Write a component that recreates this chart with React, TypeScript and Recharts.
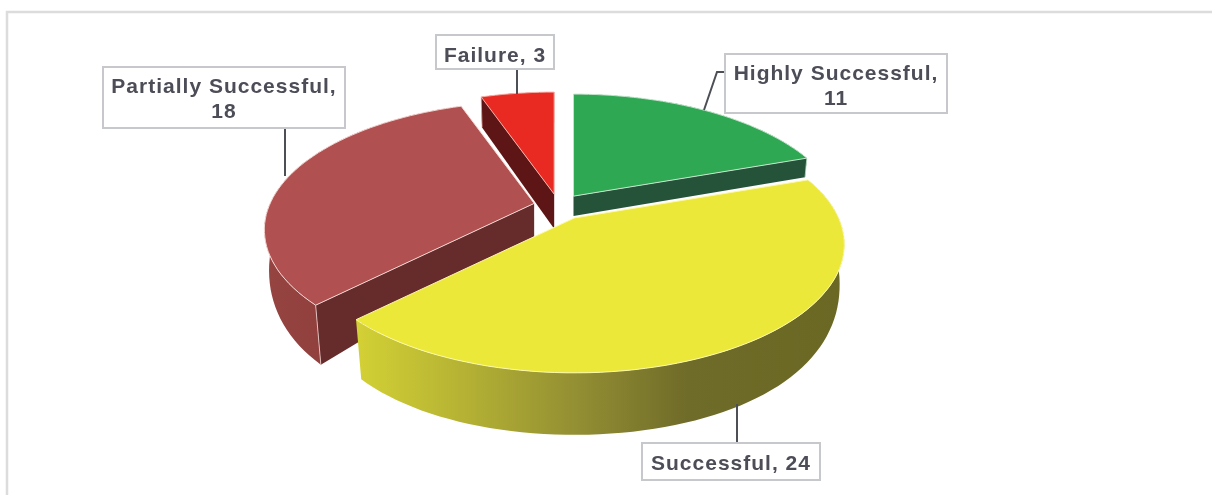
import { Cell, Pie, PieChart } from 'recharts'

// slice order starts at the red slice so the big yellow one paints last, on top
const names = ['Partially Successful', 'Failure', 'Highly Successful', 'Successful']
const values = [18, 3, 11, 24]
const rows = names.map((name, i) => ({ name, value: values[i] }))

const START_ANGLE = -135 // red slice starts 225 deg clockwise from 12 o'clock

const TILT = 0.466
const PERSP = 0.206

const LOOK: Record<string, { top: string; wall: string; cut: string; edge: string; depth: number; explode: number }> = {
  'Highly Successful': { top: '#2ea852', wall: '#24533a', cut: '#24533a', edge: '#c4e4cc', depth: 0.6, explode: 0.1 },
  Successful: { top: '#ece83a', wall: 'url(#yellowWall)', cut: '#6b6a25', edge: '#fbf8a8', depth: 1, explode: 0.112 },
  'Partially Successful': { top: '#b05050', wall: 'url(#redWall)', cut: '#662b2b', edge: '#f3d6d2', depth: 1, explode: 0.095 },
  Failure: { top: '#e92a22', wall: '#5e1515', cut: '#5e1515', edge: '#f6b0a8', depth: 1.05, explode: 0.1 },
}

const BOXES: Record<string, { x: number; y: number; w: number; h: number; base: number; wrap: boolean; leader: string }> = {
  'Highly Successful': { x: 725, y: 54, w: 222, h: 59, base: 80, wrap: true, leader: 'M725 72 L717 72 L704 110' },
  Successful: { x: 642, y: 443, w: 178, h: 37, base: 470, wrap: false, leader: 'M737 404 L737 443' },
  'Partially Successful': { x: 103, y: 67, w: 242, h: 61, base: 93, wrap: true, leader: 'M285 128 L285 176' },
  Failure: { x: 436, y: 35, w: 118, h: 34, base: 62, wrap: false, leader: 'M517 69 L517 94' },
}

const rad = (d: number) => (d * Math.PI) / 180

// point of the tilted disc, r in 0..1, theta clockwise from 12 o'clock
function disc(theta: number, r: number, R: number) {
  const X = r * Math.sin(rad(theta))
  const Y = r * Math.cos(rad(theta))
  const w = 1 + PERSP * Y
  return { x: (R * X) / w, y: (-R * TILT * Y) / w, Y }
}

function drop(Y: number, k: number) {
  const d = Y < 0 ? 62 - 29 * (1 + Y) * (1 + Y) : 33 - 4 * Y
  return d * k
}

function lower(p: { x: number; y: number; Y: number }, k: number) {
  const d = drop(p.Y, k)
  return { x: p.x * (1 - d * 0.0004), y: p.y + d }
}

const toPath = (pts: { x: number; y: number }[]) =>
  pts.map((p, i) => `${i ? 'L' : 'M'}${p.x.toFixed(1)} ${p.y.toFixed(1)}`).join(' ') + ' Z'

function Slice3D(props: any) {
  const { cx, cy, outerRadius, startAngle, endAngle, midAngle, name } = props
  const look = LOOK[name]
  const a = 90 - startAngle
  const b = 90 - endAngle
  const R = outerRadius
  const off = disc(90 - midAngle, look.explode, R)
  const ox = cx + off.x
  const oy = cy + off.y
  const rim: { x: number; y: number; Y: number }[] = []
  const n = Math.ceil(Math.abs(b - a) / 2)
  for (let i = 0; i <= n; i++) rim.push(disc(a + ((b - a) * i) / n, 1, R))
  const hub = { x: 0, y: 0, Y: 0 }
  const wall = toPath([...rim, ...rim.slice().reverse().map((p) => lower(p, look.depth))])
  // a cut face only shows when the slice lies behind it
  const faces = [
    { p: rim[0], show: -Math.sin(rad(a)) > 0.01 },
    { p: rim[rim.length - 1], show: Math.sin(rad(b)) > 0.01 },
  ].filter((f) => f.show)
  return (
    <g transform={`translate(${ox} ${oy})`}>
      <path d={wall} fill={look.wall} />
      {faces.map((f, i) => {
        const q = lower(f.p, look.depth)
        return (
          <g key={i}>
            <path d={toPath([hub, f.p, q, lower(hub, look.depth)])} fill={look.cut} />
            <path d={`M${f.p.x} ${f.p.y} L${q.x} ${q.y}`} stroke={look.edge} strokeWidth={1} opacity={0.8} />
          </g>
        )
      })}
      <path d={toPath([hub, ...rim])} fill={look.top} stroke={look.edge} strokeWidth={1} strokeLinejoin="round" />
    </g>
  )
}

function BoxLabel(props: any) {
  const { name, value } = props
  const box = BOXES[name]
  const text = { fontFamily: 'Liberation Sans, Arial, sans-serif', fontWeight: 700, fontSize: 21, letterSpacing: 1, fill: '#4c4d57' }
  const mid = box.x + box.w / 2
  return (
    <g>
      <path d={box.leader} fill="none" stroke="#4c4f55" strokeWidth={2} />
      <rect x={box.x} y={box.y} width={box.w} height={box.h} fill="#fff" stroke="#c6c8cc" strokeWidth={2} />
      {box.wrap ? (
        <>
          <text x={mid} y={box.base} textAnchor="middle" {...text}>{`${name},`}</text>
          <text x={mid} y={box.base + 25} textAnchor="middle" {...text}>{value}</text>
        </>
      ) : (
        <text x={mid} y={box.base} textAnchor="middle" {...text}>{`${name}, ${value}`}</text>
      )}
    </g>
  )
}

export default function App() {
  return (
    <div style={{ position: 'absolute', left: 0, top: 0, filter: 'blur(0.5px)' }}>
      <PieChart width={1212} height={495} margin={{ top: 0, right: 0, bottom: 0, left: 0 }}>
        <defs>
          <linearGradient id="yellowWall" x1="0" y1="0" x2="1" y2="0">
            <stop offset="0%" stopColor="#d3d134" />
            <stop offset="22%" stopColor="#b5b234" />
            <stop offset="45%" stopColor="#938f33" />
            <stop offset="68%" stopColor="#6f6b29" />
            <stop offset="100%" stopColor="#6a6823" />
          </linearGradient>
          <linearGradient id="redWall" x1="0" y1="0" x2="1" y2="0">
            <stop offset="0%" stopColor="#964442" />
            <stop offset="100%" stopColor="#843634" />
          </linearGradient>
        </defs>
        <path d="M7 495 L7 12 L1212 12" fill="none" stroke="#dcdcdc" strokeWidth={2.5} />
        <Pie
          data={rows}
          dataKey="value"
          nameKey="name"
          cx={558.5}
          cy={206}
          innerRadius={0}
          outerRadius={264}
          startAngle={START_ANGLE}
          endAngle={START_ANGLE - 360}
          stroke="none"
          shape={Slice3D}
          inactiveShape={Slice3D}
          label={BoxLabel}
          labelLine={false}
          isAnimationActive={false}
        >
          {rows.map((r) => (
            <Cell key={r.name} fill={LOOK[r.name].top} />
          ))}
        </Pie>
      </PieChart>
    </div>
  )
}
